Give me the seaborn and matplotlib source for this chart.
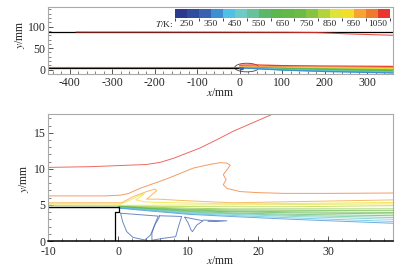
import matplotlib.pyplot as plt
import matplotlib as mpl
import seaborn as sns
import pandas as pd
from matplotlib.colors import ListedColormap, BoundaryNorm
from matplotlib.patches import Ellipse

# temperature legend (K)
t_bounds = list(range(200, 1101, 50))
t_ticks = [250, 350, 450, 550, 650, 750, 850, 950, 1050]
t_colors = ['#2b3a8f', '#2f4c9f', '#3a62b2', '#3d8fd2', '#4fc0e6', '#6ecac4',
            '#66c29a', '#5cb868', '#5bb84e', '#63b947', '#6cbb45', '#86c341',
            '#b3d33a', '#dfe33a', '#f2df2a', '#f6a331', '#f07a2c', '#ea362c']

# overview panel: walls and far-field contours
wall_top_x = [-450, 360]
wall_top_y = [88.5, 88.5]
plate_x = [-450, 0]
plate_y = [4.8, 4.8]
hot_top_x = [-385, -100, 100, 180, 260, 360]
hot_top_y = [87.6, 87.4, 87.0, 86.4, 83.0, 80.0]
hot_plate_x = [-450, 0]
hot_plate_y = [6.0, 6.0]

wide_levels = [1050, 1000, 950, 900, 850, 800, 750, 700, 650, 600, 550, 500, 450, 400, 350]
wide_x = [0, 40, 100, 200, 300, 360]
wide_y = [
    [10.5, 11.0, 9.5, 8.5, 8.0, 7.6],
    [6.3, 6.7, 6.6, 6.0, 5.5, 5.3],
    [5.3, 5.5, 5.3, 4.8, 4.3, 3.9],
    [5.15, 5.2, 4.8, 4.0, 3.3, 2.8],
    [5.0, 5.1, 4.3, 3.2, 2.2, 1.5],
    [4.9, 4.9, 3.8, 2.4, 1.2, 0.5],
    [4.8, 4.45, 3.3, 1.7, 0.3, -0.5],
    [4.8, 4.2, 2.8, 1.0, -0.6, -1.5],
    [4.75, 3.9, 2.3, 0.3, -1.4, -2.3],
    [4.75, 3.7, 1.8, -0.4, -2.2, -3.0],
    [4.7, 3.4, 1.3, -1.1, -3.0, -3.8],
    [4.7, 3.1, 0.8, -1.8, -3.7, -4.6],
    [4.65, 2.9, 0.3, -2.5, -4.4, -5.4],
    [4.6, 2.6, -0.3, -3.3, -5.3, -6.5],
    [4.55, 2.3, -0.9, -4.2, -6.3, -7.7],
]

# zoomed panel: contour lines near the splitter-plate tip
c1050_x = [-10, -4, 0, 4, 6, 8, 11.7, 14, 16.4, 19, 22.1]
c1050_y = [10.2, 10.3, 10.45, 10.6, 10.9, 11.5, 12.9, 14.0, 15.2, 16.3, 17.6]
c1000_x = [-10, -2, 0.3, 1.5, 3.1, 6.9, 10.7, 13, 14.5, 15.5, 16.0, 15.0, 15.4, 15.0,
           15.5, 17.4, 20, 23.6, 30, 39.5]
c1000_y = [6.25, 6.25, 6.35, 6.6, 7.3, 8.6, 10.1, 10.6, 10.85, 10.8, 10.5, 9.2, 8.5, 7.8,
           7.3, 6.85, 6.7, 6.6, 6.6, 6.65]
c950_x = [-10, -2, 0.5, 2.1, 4.05, 5.2, 5.5, 4.5, 4.05, 5.7, 9.3, 16.4, 25, 39.5]
c950_y = [5.3, 5.3, 5.3, 6.15, 6.85, 7.2, 7.0, 6.15, 5.8, 5.8, 5.6, 5.3, 5.45, 5.7]
c900_x = [-10, -2, 0.3, 1.5, 3.0, 3.7, 3.4, 2.5, 4, 8, 16, 25, 39.5]
c900_y = [5.15, 5.15, 5.1, 5.6, 6.3, 6.6, 6.3, 5.7, 5.4, 5.3, 5.15, 5.2, 5.35]
c850_x = [-10, 0, 4, 10, 16, 25, 39.5]
c850_y = [5.0, 4.95, 4.95, 5.0, 5.0, 5.05, 5.15]
c800_x = [-10, 0, 4, 10, 16, 25, 39.5]
c800_y = [4.9, 4.85, 4.8, 4.78, 4.75, 4.75, 4.9]

fan_levels = [750, 700, 650, 600, 550, 500, 450, 400, 350]
fan_x = [0.1, 4, 10, 16, 25, 39.5]
fan_y = [
    [4.8, 4.7, 4.55, 4.45, 4.45, 4.45],
    [4.8, 4.6, 4.4, 4.3, 4.25, 4.2],
    [4.75, 4.55, 4.3, 4.15, 4.05, 3.95],
    [4.75, 4.5, 4.2, 4.05, 3.9, 3.75],
    [4.7, 4.45, 4.1, 3.9, 3.7, 3.5],
    [4.7, 4.4, 4.0, 3.8, 3.55, 3.25],
    [4.65, 4.35, 3.9, 3.7, 3.4, 3.0],
    [4.6, 4.3, 3.8, 3.55, 3.2, 2.7],
    [4.55, 4.2, 3.7, 3.4, 3.0, 2.45],
]

# recirculation pockets behind the plate (T = 300 K)
loop_a_x = [0.33, 0.62, 1.2, 2.1, 3.8, 4.6, 5.1, 5.7, 3.0, 0.33]
loop_a_y = [3.85, 2.68, 1.3, 0.5, 0.14, 0.83, 2.0, 3.45, 3.65, 3.85]
loop_b_x = [5.9, 7.5, 9.05, 8.6, 8.2, 6.4, 4.8, 4.8, 5.2, 5.8, 5.9]
loop_b_y = [3.5, 3.45, 3.4, 2.0, 0.6, 0.37, 0.1, 1.07, 2.2, 3.2, 3.5]
loop_c_x = [9.5, 12.1, 11.2, 10.6, 10.4, 10.0, 9.5]
loop_c_y = [3.3, 2.8, 2.2, 1.3, 1.5, 2.45, 3.3]
tail_x = [12.1, 13.5, 15.5, 14.0, 12.8]
tail_y = [2.9, 2.85, 2.8, 2.7, 2.72]

# splitter plate outline in the zoomed panel
tip_top_x = [-10, 0.15]
tip_top_y = [4.75, 4.75]
tip_base_x = [-0.5, -0.5, 0.15, 0.15]
tip_base_y = [0.0, 4.07, 4.07, 4.75]

cmap = ListedColormap(t_colors)
norm = BoundaryNorm(t_bounds, cmap.N)


def line_frame(lines, tag):
    rows = []
    pal = {}
    for i, (T, xs, ys) in enumerate(lines):
        key = f'{tag}{i}'
        pal[key] = cmap(norm(T))
        for a, b in zip(xs, ys):
            rows.append({'x': a, 'y': b, 'line': key})
    return pd.DataFrame(rows), pal


sns.set_style('ticks')
plt.rcParams['font.family'] = ['Liberation Serif', 'DejaVu Serif']
plt.rcParams['mathtext.fontset'] = 'stix'
plt.rcParams['axes.unicode_minus'] = False
plt.rcParams['font.size'] = 8.5

fig = plt.figure(figsize=(4.03, 2.75), dpi=100)
ax1 = fig.add_axes([48.3 / 403, 1 - 74 / 275, 344.4 / 403, 66.7 / 275])
ax2 = fig.add_axes([48.3 / 403, 1 - 241 / 275, 344.4 / 403, 127 / 275])

# ---- overview panel
top_lines = [(T, wide_x, ys) for T, ys in zip(wide_levels, wide_y)]
top_lines += [(300, loop_a_x, loop_a_y), (300, loop_b_x, loop_b_y)]
df1, pal1 = line_frame(top_lines, 'w')
ax1.plot(wall_top_x, wall_top_y, color='black', lw=0.9)
ax1.plot(plate_x, plate_y, color='black', lw=0.9)
ax1.plot(hot_top_x, hot_top_y, color=cmap(norm(1050)), lw=0.8, alpha=0.85)
ax1.plot(hot_plate_x, hot_plate_y, color=cmap(norm(1050)), lw=0.8, alpha=0.85)
sns.lineplot(data=df1, x='x', y='y', hue='line', palette=pal1, estimator=None,
             sort=False, legend=False, lw=0.9, ax=ax1)
ax1.add_patch(Ellipse((17, 5), 57, 20, fill=False, ec='#444444', lw=0.6))
ax1.set_xlim(-450, 360)
ax1.set_ylim(-10, 145)
ax1.set_xticks(range(-400, 301, 100))
ax1.set_yticks([0, 50, 100])
ax1.xaxis.set_minor_locator(mpl.ticker.MultipleLocator(20))
ax1.yaxis.set_minor_locator(mpl.ticker.MultipleLocator(10))
ax1.set_xlabel('$x$/mm')
ax1.set_ylabel('$y$/mm')
ax1.xaxis.set_label_coords(0.5, -0.2)
ax1.yaxis.set_label_coords(-0.062, 0.585)

cax = ax1.inset_axes([0.368, 0.844, 0.624, 0.13])
cb = fig.colorbar(mpl.cm.ScalarMappable(norm=norm, cmap=cmap), cax=cax,
                  orientation='horizontal', ticks=t_ticks)
cb.outline.set_visible(False)
cax.tick_params(length=0, labelsize=6.8, pad=1.5)
cax.text(-0.008, -0.75, '$T$/K:', transform=cax.transAxes, ha='right', va='center',
         fontsize=6.8)

# ---- zoomed panel
zoom_lines = [(1050, c1050_x, c1050_y), (1000, c1000_x, c1000_y),
              (950, c950_x, c950_y), (900, c900_x, c900_y),
              (850, c850_x, c850_y), (800, c800_x, c800_y)]
zoom_lines += [(T, fan_x, ys) for T, ys in zip(fan_levels, fan_y)]
zoom_lines += [(300, loop_a_x, loop_a_y), (300, loop_b_x, loop_b_y),
               (300, loop_c_x, loop_c_y), (300, tail_x, tail_y)]
df2, pal2 = line_frame(zoom_lines, 'z')
sns.lineplot(data=df2, x='x', y='y', hue='line', palette=pal2, estimator=None,
             sort=False, legend=False, lw=0.7, alpha=0.75, ax=ax2)
ax2.plot(tip_top_x, tip_top_y, color='black', lw=1.0)
ax2.plot(tip_base_x, tip_base_y, color='black', lw=0.9)
ax2.set_xlim(-10, 39.2)
ax2.set_ylim(0, 17.6)
ax2.set_xticks([-10, 0, 10, 20, 30])
ax2.set_yticks([0, 5, 10, 15])
ax2.xaxis.set_minor_locator(mpl.ticker.MultipleLocator(2))
ax2.yaxis.set_minor_locator(mpl.ticker.MultipleLocator(1))
ax2.set_xlabel('$x$/mm')
ax2.set_ylabel('$y$/mm')
ax2.xaxis.set_label_coords(0.5, -0.11)
ax2.yaxis.set_label_coords(-0.051, 0.49)

for ax in (ax1, ax2):
    for s in ax.spines.values():
        s.set_color('#aaaaaa')
        s.set_linewidth(0.8)
    ax.tick_params(which='both', direction='in', labelsize=8.5, pad=2, color='#555555')
    ax.tick_params(which='major', length=3.5, width=0.7)
    ax.tick_params(which='minor', length=2, width=0.5)
ax2.spines['bottom'].set_color('black')
ax2.spines['bottom'].set_linewidth(1.1)
ax2.tick_params(axis='x', which='both', pad=3.5)

fig.savefig('out.png', dpi=100)
